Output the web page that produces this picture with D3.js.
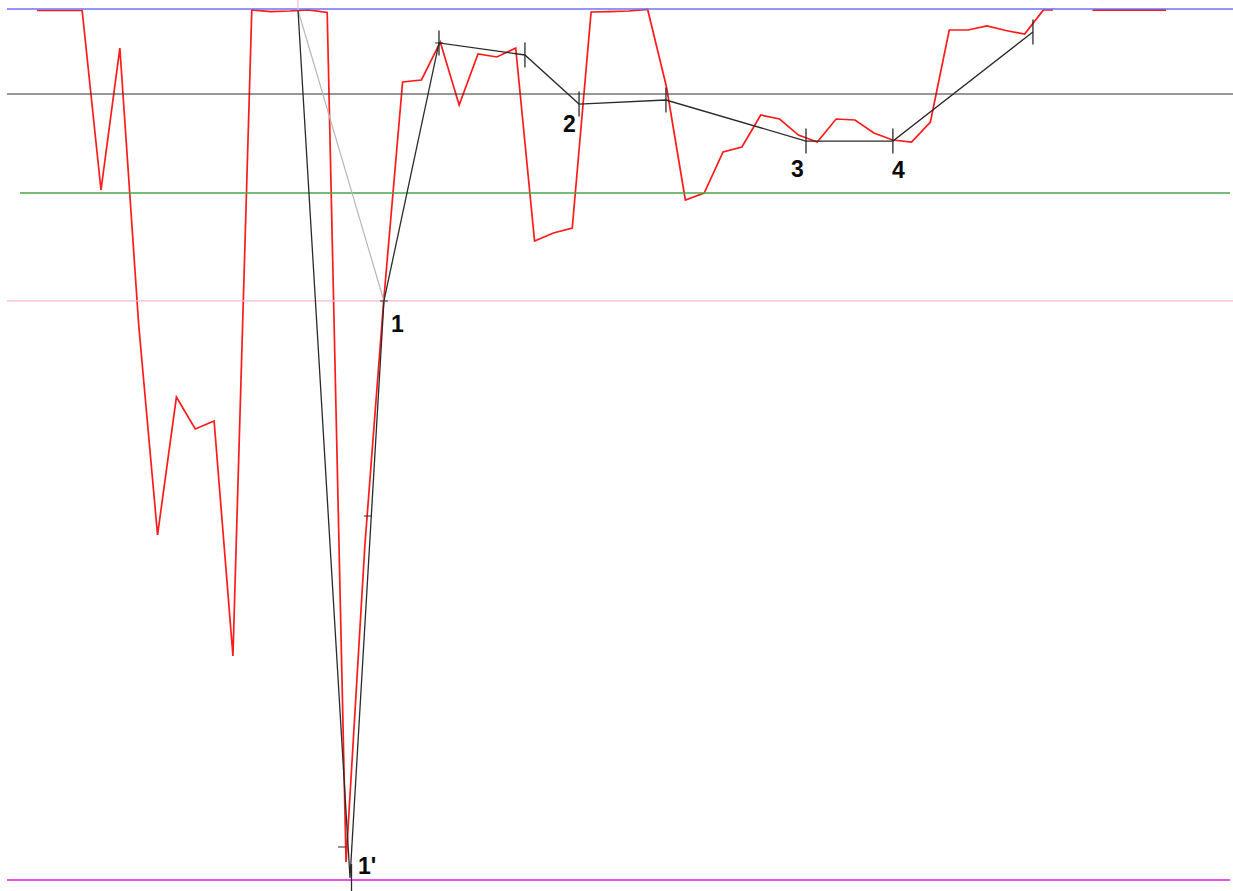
<!DOCTYPE html>
<html>
<head>
<meta charset="utf-8">
<script src="https://cdn.jsdelivr.net/npm/d3@7"></script>
<style>
  html, body { margin: 0; padding: 0; background: #ffffff; }
  svg { display: block; }
</style>
</head>
<body>
<svg id="chart" width="1233" height="891"></svg>
<script>
// ---- data ----
// bar index of each oscillator point
const redIndex = [-0.4, 0, 1, 2, 3, 4, 5, 6, 7, 8, 9, 10, 11, 12, 13, 14, 15, 16, 17, 18, 19,
  20, 21, 22, 23, 24, 25, 26, 27, 28, 29, 30, 31, 32, 33, 34, 35, 36, 37, 38, 39,
  40, 41, 42, 43, 44, 45, 46, 47, 48, 49, 50, 51, 52, 53, 53.5];
// oscillator values (0 = bottom level, 100 = top level)
const redValues = [99.83, 99.83, 99.83, 99.83, 79.22, 95.52, 63.72, 39.61, 55.45, 51.78, 52.70, 25.72,
  99.89, 99.71, 99.77, 99.89, 99.60, 2.07, 38.46, 66.59, 91.62,
  91.85, 96.21, 88.98, 94.83, 94.49, 95.52, 73.36, 74.28, 74.86, 99.66, 99.71, 99.77, 99.94, 91.04,
  78.07, 78.87, 83.58, 84.16, 87.83, 87.37, 85.53, 84.73, 87.37, 87.26, 85.76, 84.96, 84.73, 87.03,
  97.59, 97.59, 98.05, 97.53, 97.13, 99.89, 99.89];
const redTailIndex = [55.6, 59.5];
const redTailValues = [99.89, 99.89];

// wave (pivot) line
const waveIndex = [13.45, 16.21, 18.01, 20.93, 25.49, 28.36, 32.97, 40.40, 45.01, 52.44];
const waveValues = [99.89, 0.23, 66.48, 96.10, 94.72, 89.09, 89.55, 84.84, 84.84, 97.36];
const waveLabels = ["", "1'", "1", "", "", "2", "", "3", "4", ""];
// light guide line from the start to point 1
const guideIndex = [13.45, 18.01];
const guideValues = [99.89, 66.48];
// small cross marks on the impulse legs
const markIndex = [15.78, 17.16];
const markValues = [3.79, 41.79];

// horizontal levels
const levelValues = [100, 90.24, 78.87, 66.48, 0];
const levelNames = ["top", "upper", "middle", "lower", "bottom"];

// ---- drawing ----
const svg = d3.select("#chart");
const W = 1233, H = 891;
svg.append("rect").attr("width", W).attr("height", H).attr("fill", "#ffffff");

const x = d3.scaleLinear().domain([0, 60]).range([44.45, 44.45 + 60 * 18.85]);
const y = d3.scaleLinear().domain([0, 100]).range([880, 9]);

const levelStyle = {
  top:    { color: "#7272f4", width: 1.3, x0: -1.99, x1: 63.1 },
  upper:  { color: "#333333", width: 1.2, x0: -1.99, x1: 63.1 },
  middle: { color: "#48a448", width: 1.5, x0: -1.30, x1: 62.9 },
  lower:  { color: "#ffb7cf", width: 1.2, x0: -1.99, x1: 63.1 },
  bottom: { color: "#ea4fea", width: 2,   x0: -1.99, x1: 62.9 }
};

const redLine = d3.line().x(d => x(d[0])).y(d => y(d[1]));

// red oscillator
svg.append("path")
  .datum(redIndex.map((v, i) => [v, redValues[i]]))
  .attr("d", redLine)
  .attr("fill", "none").attr("stroke", "#ff1a1a").attr("stroke-width", 1.7)
  .attr("stroke-linejoin", "miter");
svg.append("path")
  .datum(redTailIndex.map((v, i) => [v, redTailValues[i]]))
  .attr("d", redLine)
  .attr("fill", "none").attr("stroke", "#ff1a1a").attr("stroke-width", 2);

// levels
levelValues.forEach((v, i) => {
  const s = levelStyle[levelNames[i]];
  svg.append("line")
    .attr("x1", x(s.x0)).attr("x2", x(s.x1))
    .attr("y1", y(v)).attr("y2", y(v))
    .attr("stroke", s.color).attr("stroke-width", s.width);
});

// pink vertical marker at the wave start
svg.append("line")
  .attr("x1", x(guideIndex[0])).attr("x2", x(guideIndex[0]))
  .attr("y1", 0).attr("y2", y(guideValues[0]))
  .attr("stroke", "#ffb7cf").attr("stroke-width", 1.2);

// guide line
svg.append("path")
  .datum(guideIndex.map((v, i) => [v, guideValues[i]]))
  .attr("d", redLine)
  .attr("fill", "none").attr("stroke", "#b8b8b8").attr("stroke-width", 1.2);

// wave line
const wave = waveIndex.map((v, i) => [v, waveValues[i], waveLabels[i]]);
svg.append("path")
  .datum(wave)
  .attr("d", redLine)
  .attr("fill", "none").attr("stroke", "#2a2a2a").attr("stroke-width", 1.3);

// ticks at pivots
wave.forEach((d, i) => {
  if (i === 0 || i === 2) return;
  const px = x(d[0]), py = y(d[1]);
  const top = i === 1 ? py - 14 : py - 12.5;
  const bot = i === 1 ? H : py + 12.5;
  svg.append("line")
    .attr("x1", px + (i === 1 ? 1.5 : 0)).attr("x2", px + (i === 1 ? 1.5 : 0))
    .attr("y1", top).attr("y2", bot)
    .attr("stroke", "#2a2a2a").attr("stroke-width", 1.3);
});
// small horizontal marks
const smallMarks = markIndex.map((v, i) => [v, markValues[i]]).concat([[waveIndex[2], waveValues[2]], [waveIndex[3], waveValues[3]]]);
smallMarks.forEach(d => {
  svg.append("line")
    .attr("x1", x(d[0]) - 4).attr("x2", x(d[0]) + 4)
    .attr("y1", y(d[1])).attr("y2", y(d[1]))
    .attr("stroke", "#2a2a2a").attr("stroke-width", 1);
});

// labels
const labelOffset = { "1'": [8, -4], "1": [7, 31], "2": [-16, 28], "3": [-15, 36], "4": [-1, 37] };
wave.forEach(d => {
  if (!d[2]) return;
  const o = labelOffset[d[2]];
  svg.append("text")
    .attr("x", x(d[0]) + o[0]).attr("y", y(d[1]) + o[1])
    .attr("font-family", "'Liberation Sans', Arial, sans-serif")
    .attr("font-weight", "bold").attr("font-size", 23)
    .attr("fill", "#0a0a0a")
    .text(d[2]);
});
</script>
</body>
</html>
